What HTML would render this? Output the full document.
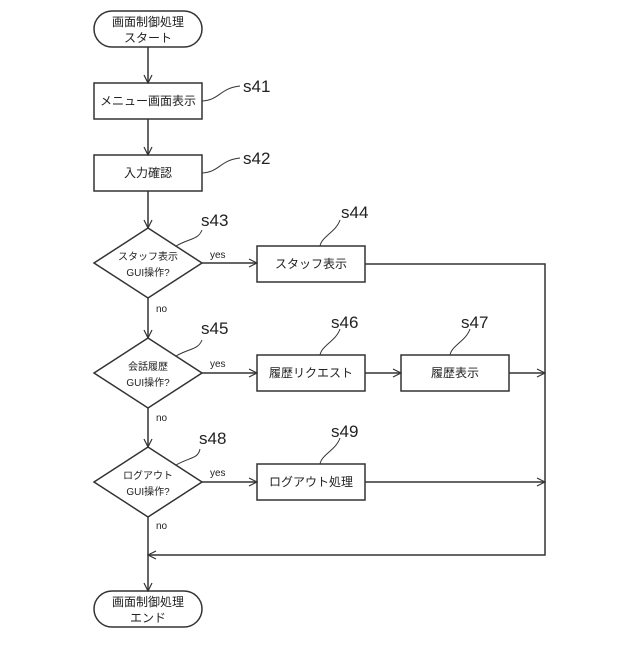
<!DOCTYPE html>
<html><head><meta charset="utf-8"><style>body{margin:0;background:#fff}svg text{font-family:"Liberation Sans","Noto Sans CJK JP",sans-serif;fill:#222}</style></head><body>
<svg width="640" height="640" viewBox="0 0 640 640" xmlns="http://www.w3.org/2000/svg">
<defs><marker id="a" markerWidth="10" markerHeight="10" refX="9" refY="5" orient="auto" markerUnits="userSpaceOnUse"><path d="M1,1 L9,5 L1,9" fill="none" stroke="#333" stroke-width="1.2"/></marker></defs>
<g stroke="#333" stroke-width="1.5" fill="none">
<rect x="94" y="11" width="108" height="36" rx="18"/>
<rect x="94" y="83" width="108" height="36"/>
<rect x="94" y="155" width="108" height="36"/>
<polygon points="148,228 202,263 148,298 94,263"/>
<rect x="257" y="246" width="108" height="36"/>
<polygon points="148,338 202,373 148,408 94,373"/>
<rect x="257" y="355" width="108" height="36"/>
<rect x="401" y="355" width="108" height="36"/>
<polygon points="148,447 202,482 148,517 94,482"/>
<rect x="257" y="464" width="108" height="36"/>
<rect x="94" y="591" width="108" height="36" rx="18"/>
<line x1="148" y1="47" x2="148" y2="83" marker-end="url(#a)"/>
<line x1="148" y1="119" x2="148" y2="155" marker-end="url(#a)"/>
<line x1="148" y1="191" x2="148" y2="228" marker-end="url(#a)"/>
<line x1="148" y1="298" x2="148" y2="338" marker-end="url(#a)"/>
<line x1="148" y1="408" x2="148" y2="447" marker-end="url(#a)"/>
<line x1="148" y1="517" x2="148" y2="591" marker-end="url(#a)"/>
<line x1="202" y1="263" x2="257" y2="263" marker-end="url(#a)"/>
<line x1="202" y1="373" x2="257" y2="373" marker-end="url(#a)"/>
<line x1="365" y1="373" x2="401" y2="373" marker-end="url(#a)"/>
<line x1="509" y1="373" x2="545" y2="373" marker-end="url(#a)"/>
<line x1="202" y1="482" x2="257" y2="482" marker-end="url(#a)"/>
<line x1="365" y1="482" x2="545" y2="482" marker-end="url(#a)"/>
<polyline points="365,264 545,264 545,555 148,555" marker-end="url(#a)"/>
<g stroke-width="1">
<path d="M202,101 C220,100 220,88 240,86"/>
<path d="M202,173 C220,172 220,160 240,158"/>
<path d="M176,246 C190,238 198,240 202,230"/>
<path d="M176,356 C190,348 198,350 202,340"/>
<path d="M176,465 C190,457 198,459 200,449"/>
<path d="M320,246 C322,236 336,232 340,220"/>
<path d="M320,355 C322,345 336,341 340,329"/>
<path d="M450,355 C452,345 466,341 470,329"/>
<path d="M320,464 C322,454 336,450 340,438"/>
</g>
</g>
<g font-size="12" text-anchor="middle">
<text x="148" y="26">画面制御処理</text><text x="148" y="42">スタート</text>
<text x="148" y="105">メニュー画面表示</text>
<text x="148" y="177">入力確認</text>
<text x="148" y="260" font-size="10">スタッフ表示</text><text x="148" y="276" font-size="10">GUI操作?</text>
<text x="311" y="268">スタッフ表示</text>
<text x="148" y="370" font-size="10">会話履歴</text><text x="148" y="386" font-size="10">GUI操作?</text>
<text x="311" y="377">履歴リクエスト</text>
<text x="455" y="377">履歴表示</text>
<text x="148" y="479" font-size="10">ログアウト</text><text x="148" y="495" font-size="10">GUI操作?</text>
<text x="311" y="486">ログアウト処理</text>
<text x="148" y="606">画面制御処理</text><text x="148" y="622">エンド</text>
</g>
<g font-size="10"><text x="210" y="258">yes</text><text x="210" y="367">yes</text><text x="210" y="476">yes</text>
<text x="156" y="312">no</text><text x="156" y="421">no</text><text x="156" y="529">no</text></g>
<g font-size="17"><text x="243" y="92">s41</text><text x="243" y="164">s42</text><text x="201" y="226">s43</text><text x="341" y="218">s44</text><text x="201" y="334">s45</text><text x="331" y="328">s46</text><text x="461" y="328">s47</text><text x="199" y="444">s48</text><text x="331" y="437">s49</text></g>
</svg></body></html>
